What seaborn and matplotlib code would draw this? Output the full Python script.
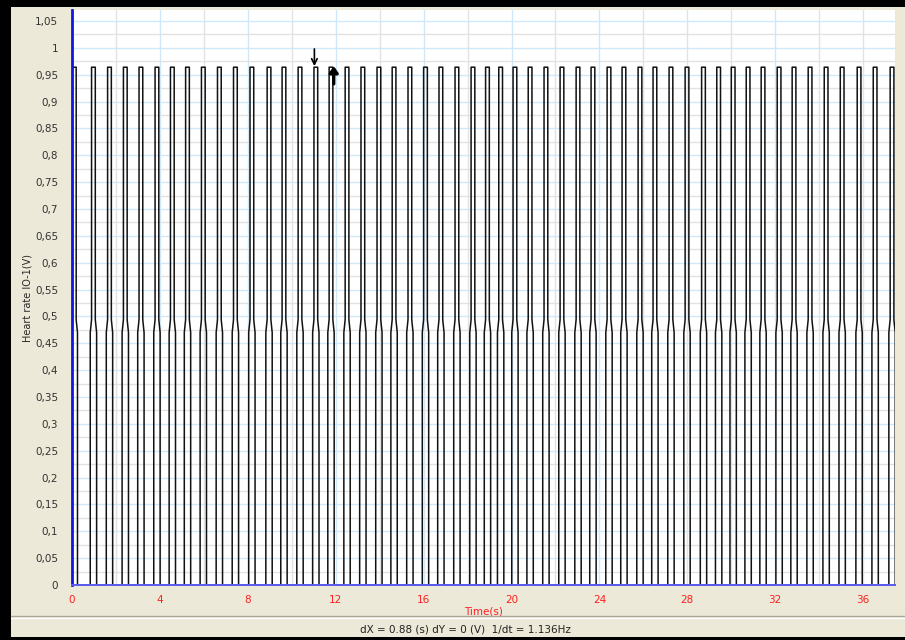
import numpy as np
import pandas as pd
import matplotlib
matplotlib.use("Agg")
import matplotlib.pyplot as plt
from matplotlib.patches import Rectangle
from matplotlib.lines import Line2D
from matplotlib.ticker import MultipleLocator, FuncFormatter
import seaborn as sns

# Heart-rate sensor IO-1: times (s) at which each pulse reaches its high level
pulse_onsets = [0.02, 0.89, 1.62, 2.34, 3.05, 3.78, 4.48, 5.17, 5.89, 6.62,
                7.35, 8.10, 8.88, 9.56, 10.29, 11.01, 11.70, 12.43, 13.15, 13.88,
                14.57, 15.29, 16.00, 16.70, 17.43, 18.16, 18.82, 19.42, 20.07, 20.76,
                21.48, 22.21, 22.94, 23.62, 24.35, 25.03, 25.76, 26.44, 27.17, 27.90,
                28.65, 29.34, 30.00, 30.68, 31.36, 32.09, 32.77, 33.50, 34.23, 34.96,
                35.73, 36.46, 37.23]
high_level = 0.964          # V
mid_level = 0.482           # V, intermediate sample on each edge
pulse_width = 0.17          # s
edge_step = 0.06            # s, offset of the intermediate sample

# cursors
cursor_a = 11.03
cursor_dx = 0.88
status_text = "dX = 0.88 (s) dY = 0 (V)  1/dt = 1.136Hz"

x_ticks = [0, 4, 8, 12, 16, 20, 24, 28, 32, 36]

# build the sampled waveform path
ts, vs = [], []
for t in pulse_onsets:
    ts += [t - edge_step, t - edge_step, t, t, t + pulse_width, t + pulse_width,
           t + pulse_width + edge_step, t + pulse_width + edge_step]
    vs += [0.0, mid_level - 0.012, mid_level + 0.012, high_level, high_level,
           mid_level + 0.012, mid_level - 0.012, 0.0]
df = pd.DataFrame({"Time(s)": ts, "V": vs})

sns.set_style("white")
plt.rcParams["font.family"] = ["DejaVu Sans"]

BEIGE = "#ECE9D8"
W, H = 905, 640
fig = plt.figure(figsize=(W / 100, H / 100), dpi=100, facecolor=BEIGE)

# window frame
fig.patches.append(Rectangle((0, 1 - 7 / H), 1, 7 / H, transform=fig.transFigure,
                             facecolor="black", edgecolor="none", zorder=0))
fig.patches.append(Rectangle((0, 0), 11 / W, 1, transform=fig.transFigure,
                             facecolor="black", edgecolor="none", zorder=0))
fig.patches.append(Rectangle((0, 0), 1, 3 / H, transform=fig.transFigure,
                             facecolor="black", edgecolor="none", zorder=0))
# status bar separator
fig.add_artist(Line2D([11 / W, 1], [1 - 616 / H] * 2, color="#ACA899", lw=1))
fig.add_artist(Line2D([11 / W, 1], [1 - 617.5 / H] * 2, color="white", lw=1))

ax = fig.add_axes([72 / W, 55 / H, 823 / W, 575 / H])
ax.set_facecolor("white")

sns.lineplot(data=df, x="Time(s)", y="V", sort=False, estimator=None,
             color="#111111", lw=1.1, ax=ax)

ax.set_xlim(0, 37.45)
ax.set_ylim(0, 1.0705)

ax.yaxis.set_major_locator(MultipleLocator(0.05))
ax.yaxis.set_minor_locator(MultipleLocator(0.025))
ax.set_xticks(x_ticks)
ax.xaxis.set_minor_locator(MultipleLocator(2))


def comma_fmt(v, pos):
    s = f"{v:.2f}".rstrip("0").rstrip(".")
    return s.replace(".", ",")


ax.yaxis.set_major_formatter(FuncFormatter(comma_fmt))

ax.set_axisbelow(True)
ax.grid(which="major", color="#CFE9FB", lw=1)
ax.grid(which="minor", color="#E2E2E2", lw=1)

ax.tick_params(axis="y", which="major", length=7, width=1, color="#333333",
               labelsize=7.5, labelcolor="#333333", pad=3, direction="out")
ax.tick_params(axis="y", which="minor", length=4, width=1, color="#333333",
               direction="out")
ax.tick_params(axis="x", which="major", length=5, width=1, color="#FF3030",
               labelsize=7.5, labelcolor="#FF2020", pad=2, direction="out")
ax.tick_params(axis="x", which="minor", length=2.5, width=1, color="#FF3030",
               direction="out")

for side in ("top", "right"):
    ax.spines[side].set_visible(False)
ax.spines["left"].set_color("#1414E6")
ax.spines["left"].set_linewidth(2)
ax.spines["bottom"].set_color("#5A5AF0")
ax.spines["bottom"].set_linewidth(1.4)

ax.set_xlabel("Time(s)", color="#FF2020", fontsize=7.5, labelpad=1)
ax.set_ylabel("Heart rate IO-1(V)", fontsize=7,
              family=["Liberation Sans Narrow", "DejaVu Sans"], labelpad=2)

# measurement cursors
ax.annotate("", xy=(cursor_a, 0.966), xytext=(cursor_a, 0.998),
            arrowprops=dict(arrowstyle="->", color="black", lw=1.2,
                            shrinkA=0, shrinkB=0), annotation_clip=False)
ax.annotate("", xy=(cursor_a + cursor_dx, 0.966),
            xytext=(cursor_a + cursor_dx, 0.933),
            arrowprops=dict(arrowstyle="-|>,head_length=0.35,head_width=0.25",
                            color="black", lw=2.4, shrinkA=0, shrinkB=0),
            annotation_clip=False)

fig.text(465 / W, 1 - 629 / H, status_text, ha="center", va="center",
         fontsize=7.5, color="#222222")

fig.savefig("out.png", dpi=100, facecolor=BEIGE)
